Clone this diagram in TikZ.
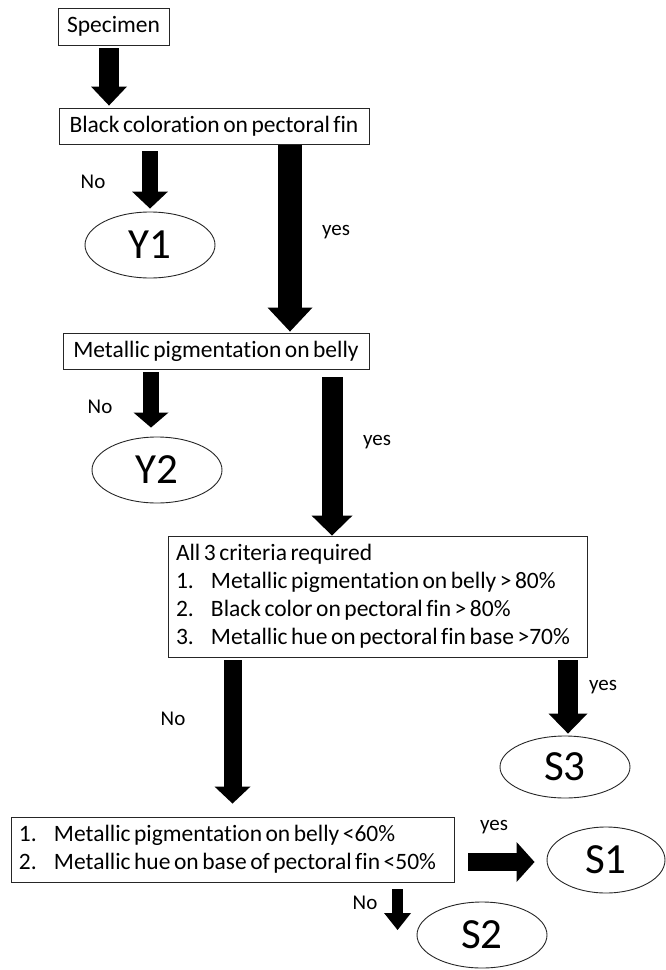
\documentclass[tikz,border=0pt]{standalone}
\usepackage{fontspec}
\setmainfont{Carlito}[Ligatures=NoCommon]
\usetikzlibrary{arrows.meta,shapes.geometric,calc}
\newcommand\bxfont{\fontsize{23.5}{28}\selectfont\spaceskip=0.15em\relax}
\newcommand\numitem[1]{\makebox[35pt][l]{#1}}
\begin{document}
\begin{tikzpicture}[x=1pt,y=1pt,
 box/.style={draw=black!85, line width=0.9pt, inner sep=0pt, font=\bxfont},
 oval/.style={ellipse, draw=black!85, line width=0.9pt, inner sep=0pt, minimum width=130pt, minimum height=66pt, font=\fontsize{43}{43}\selectfont},
 lbl/.style={font=\fontsize{21}{21}\selectfont, inner sep=0pt},
 blk/.style n args={3}{draw=black, line width=#1, -{Triangle[width=#2,length=#3,line width=0pt]}},
]
\useasboundingbox (0,0) rectangle (665,-970);
% boxes
\node[box, minimum width=111pt, minimum height=37pt] (spec) at (113.5,-26.5) {Specimen};
\node[box, minimum width=310pt, minimum height=36pt] (b2) at (214,-126) {Black coloration on pectoral fin};
\node[box, minimum width=306pt, minimum height=36pt] (b3) at (216,-351) {Metallic pigmentation on belly};
\node[box, inner xsep=8pt, minimum height=121pt] (b4) at (377.5,-596.5)
 {\makebox[403pt][l]{\begin{tabular}{@{}l@{}}
  All 3 criteria required\\
  \numitem{1.}Metallic pigmentation on belly > 80\%\\
  \numitem{2.}Black color on pectoral fin > 80\%\\
  \numitem{3.}Metallic hue on pectoral fin base >70\%
  \end{tabular}}};
\node[box, inner xsep=8pt, minimum height=65pt] (b5) at (232.5,-849.5)
 {\makebox[427pt][l]{\begin{tabular}{@{}l@{}}
  \numitem{1.}Metallic pigmentation on belly <60\%\\
  \numitem{2.}Metallic hue on base of pectoral fin <50\%
  \end{tabular}}};
% outcomes
\node[oval] (Y1) at (150,-245) {Y1};
\node[oval] (Y2) at (157,-470) {Y2};
\node[oval, minimum height=62pt] (S3) at (565,-767) {S3};
\node[oval, minimum width=118pt] (S1) at (606,-860) {S1};
\node[oval] (S2) at (482,-935) {S2};
% labels
\node[lbl] (l1) at (93,-182) {No};
\node[lbl] (l2) at (336,-232) {yes};
\node[lbl] (l3) at (100,-407) {No};
\node[lbl] (l4) at (377,-442) {yes};
\node[lbl] (l5) at (173,-719) {No};
\node[lbl] (l6) at (603,-687) {yes};
\node[lbl] (l7) at (494,-827) {yes};
\node[lbl] (l8) at (365,-903) {No};
% arrows
\draw[blk={20pt}{36pt}{19pt}] ($(spec.south)+(-4.5,-3)$) -- ($(spec.south |- b2.north)+(-4.5,2)$);
\draw[blk={16pt}{36pt}{17pt}] ($(Y1.north |- b2.south)+(0,-7)$) -- ($(Y1.north)+(0,3)$);
\draw[blk={24pt}{45pt}{24pt}] ($(b2.south)+(76,-1)$) -- ($(b2.south |- b3.north)+(76,1)$);
\draw[blk={16pt}{35pt}{15pt}] ($(Y2.north |- b3.south)+(-6,-3)$) -- ($(Y2.north)+(-6,9)$);
\draw[blk={21pt}{41pt}{20pt}] ($(b4.north |- b3.south)+(-45.5,-8)$) -- ($(b4.north)+(-45.5,0)$);
\draw[blk={18pt}{36pt}{17pt}] ($(b5.north |- b4.south)+(0,-3)$) -- ($(b5.north)+(0,13)$);
\draw[blk={20pt}{39pt}{20pt}] ($(S3.north |- b4.south)+(3,-3)$) -- ($(S3.north)+(3,2)$);
\draw[blk={18pt}{40pt}{18pt}] ($(b5.east)+(14,-12.5)$) -- ($(S1.west |- b5.east)+(-12,-12.5)$);
\draw[blk={11pt}{27pt}{17pt}] ($(S2.west |- b5.south)+(-19,-7)$) -- ($(S2.west)+(-19,5)$);
\end{tikzpicture}
\end{document}
